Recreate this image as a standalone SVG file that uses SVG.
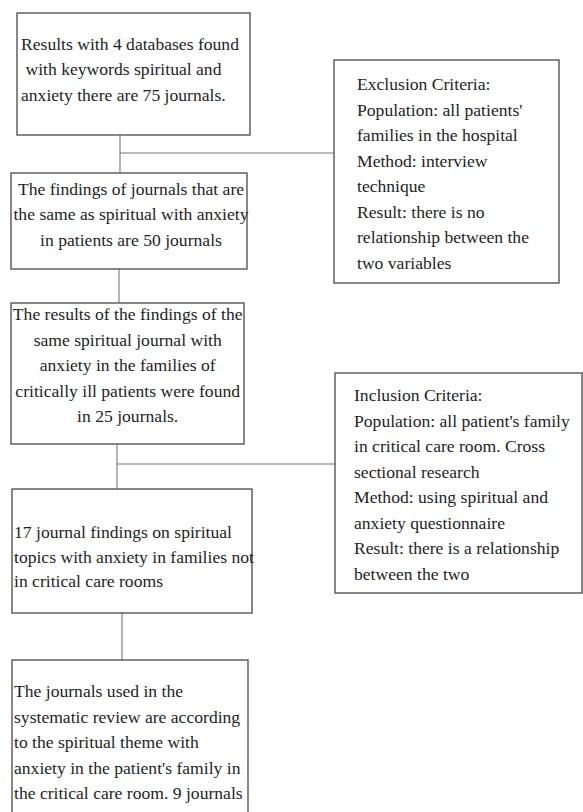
<svg xmlns="http://www.w3.org/2000/svg" width="583" height="812" viewBox="0 0 583 812">
<style>
.box{fill:#fff;stroke:#555;stroke-width:1.4}
.ln{stroke:#777;stroke-width:1.1;fill:none}
.t{font-family:'Liberation Serif',Tinos,'Times New Roman','DejaVu Serif',serif;font-size:17.6px;fill:#1e1e1e}
.c{text-anchor:middle}
</style>
<rect width="583" height="812" fill="#fff"/>
<g id="connectors">
<path class="ln" d="M120,135V173M120,153H334M119,269V303M117,444V489M117,464H335M122,613V660"/>
</g>
<g id="n1" class="t" font-family="Liberation Serif, serif">
<rect class="box" x="17" y="13" width="233" height="122"/>
<text x="21" y="49.5">Results with 4 databases found</text>
<text x="25.5" y="75">with keywords spiritual and</text>
<text x="21" y="100.5">anxiety there are 75 journals.</text>
</g>
<g id="n2" class="t">
<rect class="box" x="11" y="173" width="236" height="96"/>
<text class="c" x="131" y="194.5">The findings of journals that are</text>
<text class="c" x="131" y="220">the same as spiritual with anxiety</text>
<text class="c" x="131" y="245.5">in patients are 50 journals</text>
</g>
<g id="n3" class="t">
<rect class="box" x="11" y="303" width="233" height="141"/>
<text class="c" x="127.7" y="320">The results of the findings of the</text>
<text class="c" x="127.7" y="345.5">same spiritual journal with</text>
<text class="c" x="127.7" y="371">anxiety in the families of</text>
<text class="c" x="127.7" y="396.5">critically ill patients were found</text>
<text class="c" x="127.7" y="422">in 25 journals.</text>
</g>
<g id="n4" class="t">
<rect class="box" x="12" y="489" width="240" height="124"/>
<text x="14" y="537.5">17 journal findings on spiritual</text>
<text x="14" y="562.5">topics with anxiety in families not</text>
<text x="14" y="587">in critical care rooms</text>
</g>
<g id="n5" class="t">
<rect class="box" x="12" y="660" width="236" height="170"/>
<text x="14" y="697">The journals used in the</text>
<text x="14" y="722.5">systematic review are according</text>
<text x="14" y="748">to the spiritual theme with</text>
<text x="14" y="773.5">anxiety in the patient's family in</text>
<text x="14" y="799">the critical care room. 9 journals</text>
</g>
<g id="exclusion" class="t">
<rect class="box" x="334" y="60" width="225" height="223"/>
<text x="357" y="90">Exclusion Criteria:</text>
<text x="357" y="115.5">Population: all patients'</text>
<text x="357" y="141">families in the hospital</text>
<text x="357" y="166.5">Method: interview</text>
<text x="357" y="192">technique</text>
<text x="357" y="217.5">Result: there is no</text>
<text x="357" y="243">relationship between the</text>
<text x="357" y="268.5">two variables</text>
</g>
<g id="inclusion" class="t">
<rect class="box" x="335" y="373" width="247" height="220"/>
<text x="354" y="401">Inclusion Criteria:</text>
<text x="354" y="426.5">Population: all patient's family</text>
<text x="354" y="452">in critical care room. Cross</text>
<text x="354" y="477.5">sectional research</text>
<text x="354" y="503">Method: using spiritual and</text>
<text x="354" y="528.5">anxiety questionnaire</text>
<text x="354" y="554">Result: there is a relationship</text>
<text x="354" y="579.5">between the two</text>
</g>
</svg>
